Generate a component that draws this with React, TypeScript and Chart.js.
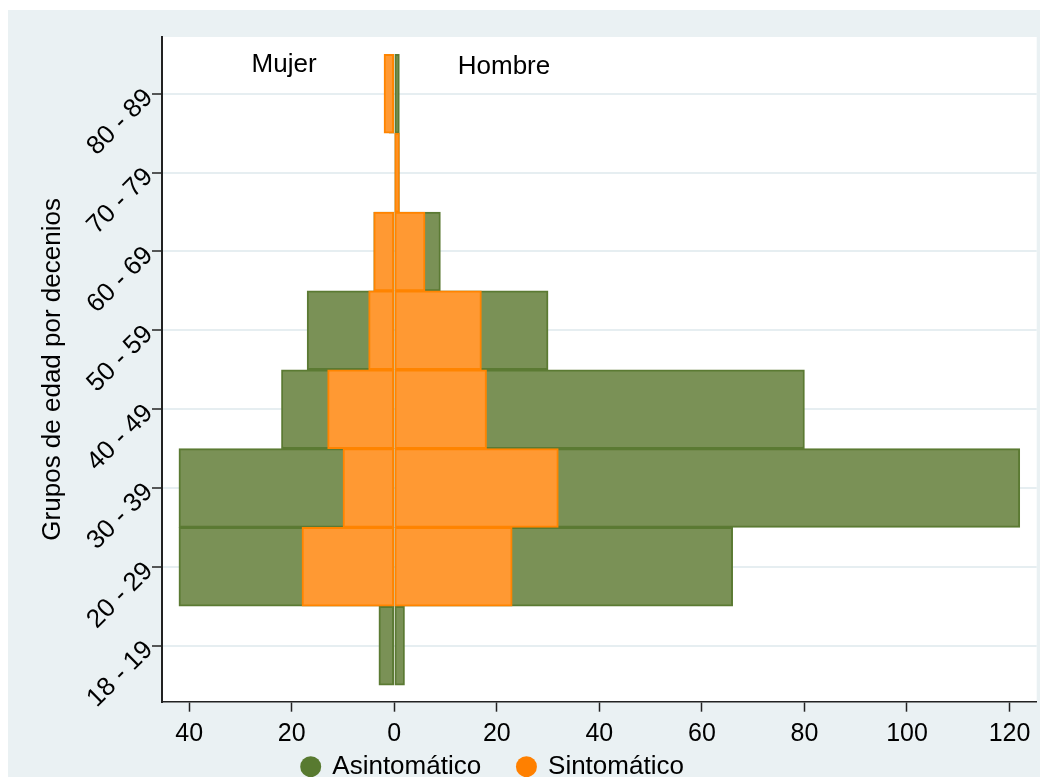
import React, { useEffect, useRef } from 'react';
import { Chart, registerables } from 'chart.js';

Chart.register(...registerables);

// ---- data ----
const AGE_GROUPS = ['18 - 19', '20 - 29', '30 - 39', '40 - 49', '50 - 59', '60 - 69', '70 - 79', '80 - 89'];
const ASINT_MUJER = [3, 42, 42, 22, 17, 4, 0, 1];
const ASINT_HOMBRE = [2, 66, 122, 80, 30, 9, 1, 1];
const SINT_MUJER = [0, 18, 10, 13, 5, 4, 0, 2];
const SINT_HOMBRE = [0, 23, 32, 18, 17, 6, 1, 0];
const X_TICKS = [-40, -20, 0, 20, 40, 60, 80, 100, 120];
const SEX_LABELS = [
  { text: 'Mujer', x: -21.5, y: 7.27 },
  { text: 'Hombre', x: 21.4, y: 7.25 },
];
const SERIES_NAMES = ['Asintomático', 'Sintomático'];

// ---- styles ----
const FONT = "'Liberation Sans', Arial, Helvetica, sans-serif";
const OUTER_BG = '#eaf1f3';
const GRID = '#e6eef1';
const AXIS = '#222222';
const GREEN = '#7a9156';
const GREEN_EDGE = '#5b7a33';
const GREEN_DOT = '#587a30';
const ORANGE = '#ff9933';
const ORANGE_EDGE = '#ff8400';
const ORANGE_DOT = '#ff8000';

const toPoints = (vals: number[], sign: number) => vals.map((v, i) => ({ x: sign * v, y: i }));

const backgroundPlugin = {
  id: 'bgPlugin',
  beforeDraw(chart: any) {
    const { ctx, chartArea, width, height } = chart;
    ctx.save();
    ctx.fillStyle = OUTER_BG;
    ctx.fillRect(0, 0, width, height);
    ctx.fillStyle = '#ffffff';
    ctx.fillRect(chartArea.left, chartArea.top, chartArea.right - chartArea.left, chartArea.bottom - chartArea.top);
    ctx.restore();
  },
};

const sexLabelPlugin = {
  id: 'sexLabels',
  afterDatasetsDraw(chart: any) {
    const { ctx, scales } = chart;
    ctx.save();
    ctx.font = `26px ${FONT}`;
    ctx.fillStyle = '#000';
    ctx.textAlign = 'center';
    ctx.textBaseline = 'alphabetic';
    SEX_LABELS.forEach((l) => {
      ctx.fillText(l.text, scales.x.getPixelForValue(l.x), scales.y.getPixelForValue(l.y));
    });
    ctx.restore();
  },
};

const legendPlugin = {
  id: 'customLegend',
  afterDraw(chart: any) {
    const { ctx } = chart;
    const colors = [GREEN_DOT, ORANGE_DOT];
    ctx.save();
    ctx.font = `26px ${FONT}`;
    ctx.textBaseline = 'alphabetic';
    ctx.textAlign = 'left';
    let x = 292.2;
    const cy = 756.7;
    const r = 10.5;
    SERIES_NAMES.forEach((name, i) => {
      ctx.fillStyle = colors[i];
      ctx.beginPath();
      ctx.arc(x + r, cy, r, 0, Math.PI * 2);
      ctx.fill();
      ctx.fillStyle = '#000';
      const tx = x + r + 21.6;
      ctx.fillText(name, tx, 763.5);
      const w = ctx.measureText(name).width;
      x = tx + w + 45.3 - r;
    });
    ctx.restore();
  },
};

export default function App() {
  const ref = useRef<HTMLCanvasElement | null>(null);

  useEffect(() => {
    if (!ref.current) return;
    const common = {
      borderWidth: 2,
      borderSkipped: false,
      grouped: false,
      barPercentage: 1,
      categoryPercentage: 1,
    };
    const chart = new Chart(ref.current, {
      type: 'bar',
      data: {
        datasets: [
          { ...common, label: SERIES_NAMES[1], data: toPoints(SINT_MUJER, -1), backgroundColor: ORANGE, borderColor: ORANGE_EDGE, order: 0 },
          { ...common, label: SERIES_NAMES[1], data: toPoints(SINT_HOMBRE, 1), backgroundColor: ORANGE, borderColor: ORANGE_EDGE, order: 0 },
          { ...common, label: SERIES_NAMES[0], data: toPoints(ASINT_MUJER, -1), backgroundColor: GREEN, borderColor: GREEN_EDGE, order: 1 },
          { ...common, label: SERIES_NAMES[0], data: toPoints(ASINT_HOMBRE, 1), backgroundColor: GREEN, borderColor: GREEN_EDGE, order: 1 },
        ] as any,
      },
      options: {
        indexAxis: 'y',
        responsive: false,
        animation: false,
        events: [],
        font: { family: FONT },
        layout: { padding: { left: 0, top: 27, right: 11.3, bottom: 0 } },
        plugins: {
          legend: { display: false },
          tooltip: { enabled: false },
          title: { display: false },
        },
        scales: {
          x: {
            type: 'linear',
            min: -45.3,
            max: 125.3,
            offset: false,
            afterBuildTicks: (scale: any) => {
              scale.ticks = X_TICKS.map((v) => ({ value: v }));
            },
            afterFit: (scale: any) => {
              scale.height = 75.3;
            },
            grid: {
              offset: false,
              drawOnChartArea: false,
              drawTicks: true,
              tickLength: 10,
              tickColor: AXIS,
              tickWidth: 1.5,
            },
            border: { display: true, color: AXIS, width: 1.5 },
            ticks: {
              padding: 7,
              color: '#000',
              font: { family: FONT, size: 25 },
              maxRotation: 0,
              minRotation: 0,
              callback: (v: any) => String(Math.abs(Number(v))),
            },
          },
          y: {
            type: 'linear',
            min: -0.71,
            max: 7.72,
            offset: false,
            afterBuildTicks: (scale: any) => {
              scale.ticks = AGE_GROUPS.map((_, i) => ({ value: i }));
            },
            afterFit: (scale: any) => {
              scale.width = 154;
            },
            grid: {
              offset: false,
              color: GRID,
              lineWidth: 2,
              drawTicks: true,
              tickLength: 10,
              tickColor: AXIS,
              tickWidth: 1.5,
            },
            border: { display: true, color: AXIS, width: 2 },
            ticks: {
              padding: 3,
              color: '#000',
              font: { family: FONT, size: 26 },
              minRotation: 45,
              maxRotation: 45,
              callback: (v: any) => AGE_GROUPS[Number(v)] ?? '',
            },
            title: {
              display: true,
              text: 'Grupos de edad por decenios',
              color: '#000',
              font: { family: FONT, size: 26 },
              padding: { top: 29, bottom: 0 },
            },
          },
        },
      } as any,
      plugins: [backgroundPlugin, sexLabelPlugin, legendPlugin],
    });
    return () => chart.destroy();
  }, []);

  return (
    <canvas
      ref={ref}
      width={1040}
      height={767}
      style={{ display: 'block', marginTop: 2, width: 1040, height: 767 }}
    />
  );
}
